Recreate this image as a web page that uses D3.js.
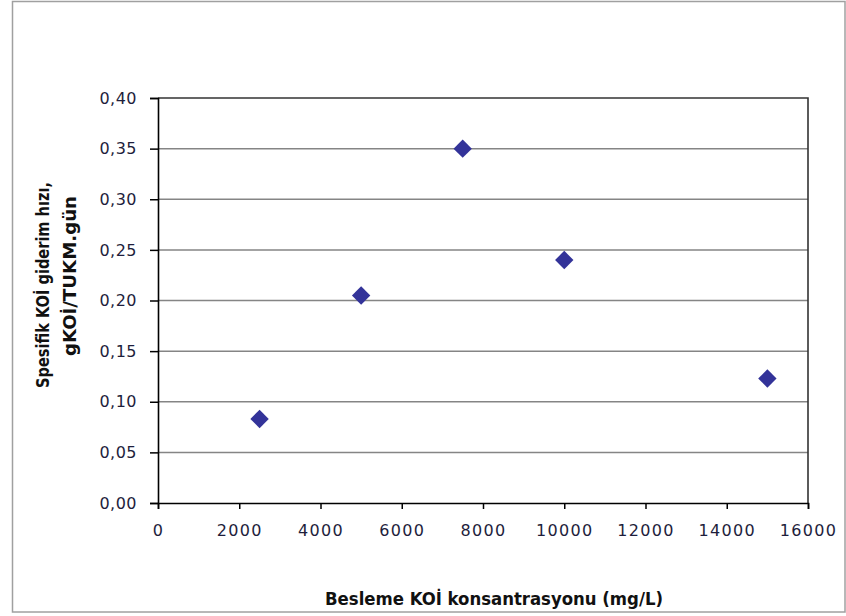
<!DOCTYPE html>
<html>
<head>
<meta charset="utf-8">
<script src="https://cdn.jsdelivr.net/npm/d3@7"></script>
<style>
  body { margin: 0; background: #fff; }
  svg { display: block; }
</style>
</head>
<body>
<div id="chart"></div>
<script>
// data
const concentrations = [2500, 5000, 7500, 10000, 15000];
const rates = [0.083, 0.205, 0.350, 0.240, 0.123];
const xTicks = [0, 2000, 4000, 6000, 8000, 10000, 12000, 14000, 16000];
const yTicks = [0, 0.05, 0.10, 0.15, 0.20, 0.25, 0.30, 0.35, 0.40];
const xTitle = "Besleme KOİ konsantrasyonu (mg/L)";
const yTitleLines = ["Spesifik KOİ giderim hızı,", "gKOİ/TUKM.gün"];

const width = 846, height = 616;
const plot = {left: 158, right: 808, top: 98, bottom: 503};
const labelFont = "'DejaVu Sans', sans-serif";
const titleFont = "'DejaVu Sans Condensed', 'DejaVu Sans', sans-serif";
const labelColor = "#1e1e3c";

const svg = d3.select("#chart").append("svg")
    .attr("width", width)
    .attr("height", height);

// chart frame
svg.append("rect")
    .attr("x", 12.5).attr("y", 1.5)
    .attr("width", 845 - 12.5).attr("height", 612 - 1.5)
    .attr("fill", "#fff")
    .attr("stroke", "#a0a0a0")
    .attr("stroke-width", 1.5);

const x = d3.scaleLinear().domain([0, 16000]).range([plot.left, plot.right]);
const y = d3.scaleLinear().domain([0, 0.4]).range([plot.bottom, plot.top]);

// gridlines
svg.append("g")
    .selectAll("line")
    .data(yTicks.filter(v => v > 0 && v < 0.4))
    .enter()
    .append("line")
    .attr("x1", plot.left).attr("x2", plot.right)
    .attr("y1", d => y(d)).attr("y2", d => y(d))
    .attr("stroke", "#858585")
    .attr("stroke-width", 1.5);

// plot area border (top + right)
svg.append("path")
    .attr("d", `M${plot.left},${plot.top}H${plot.right}V${plot.bottom}`)
    .attr("fill", "none")
    .attr("stroke", "#333")
    .attr("stroke-width", 1.6);

// y axis
const yAxis = svg.append("g")
    .attr("transform", `translate(${plot.left},0)`)
    .call(d3.axisLeft(y).tickValues(yTicks).tickSize(8).tickPadding(13)
        .tickFormat(d => d3.format(".2f")(d).replace(".", ",")));
yAxis.select(".domain").attr("stroke", "#000").attr("stroke-width", 1.6);
yAxis.selectAll(".tick line").attr("stroke", "#000").attr("stroke-width", 1.5);
yAxis.selectAll("text")
    .attr("fill", labelColor)
    .style("font-family", labelFont)
    .style("font-size", "16px")
    .style("letter-spacing", "0.5px");

// x axis
const xAxis = svg.append("g")
    .attr("transform", `translate(0,${plot.bottom})`)
    .call(d3.axisBottom(x).tickValues(xTicks).tickSize(6).tickPadding(16)
        .tickFormat(d3.format("d")));
xAxis.select(".domain").attr("stroke", "#000").attr("stroke-width", 1.6);
xAxis.selectAll(".tick line").attr("stroke", "#000").attr("stroke-width", 1.5);
xAxis.selectAll("text")
    .attr("fill", labelColor)
    .style("font-family", labelFont)
    .style("font-size", "16px")
    .style("letter-spacing", "1.3px");

// points
const diamond = d3.symbol().type(d3.symbolSquare).size(13 * 13);
svg.append("g")
    .selectAll("path")
    .data(concentrations.map((c, i) => ({c: c, r: rates[i]})))
    .enter()
    .append("path")
    .attr("d", diamond)
    .attr("transform", d => `translate(${x(d.c)},${y(d.r)}) rotate(45)`)
    .attr("fill", "#333399");

// axis titles
svg.append("text")
    .attr("x", 494)
    .attr("y", 605)
    .attr("text-anchor", "middle")
    .attr("fill", "#111")
    .style("font-family", titleFont)
    .style("font-weight", "bold")
    .style("font-size", "17px")
    .attr("textLength", 338)
    .attr("lengthAdjust", "spacingAndGlyphs")
    .text(xTitle);

const yTitleX = [49, 76], yTitleC = [285, 276], yTitleLen = [206, 160];
yTitleLines.forEach((line, i) => {
    svg.append("text")
        .attr("transform", `translate(${yTitleX[i]},${yTitleC[i]}) rotate(-90)`)
        .attr("text-anchor", "middle")
        .attr("fill", "#111")
        .style("font-family", titleFont)
        .style("font-weight", "bold")
        .style("font-size", "17px")
        .attr("textLength", yTitleLen[i])
        .attr("lengthAdjust", "spacingAndGlyphs")
        .text(line);
});
</script>
</body>
</html>
